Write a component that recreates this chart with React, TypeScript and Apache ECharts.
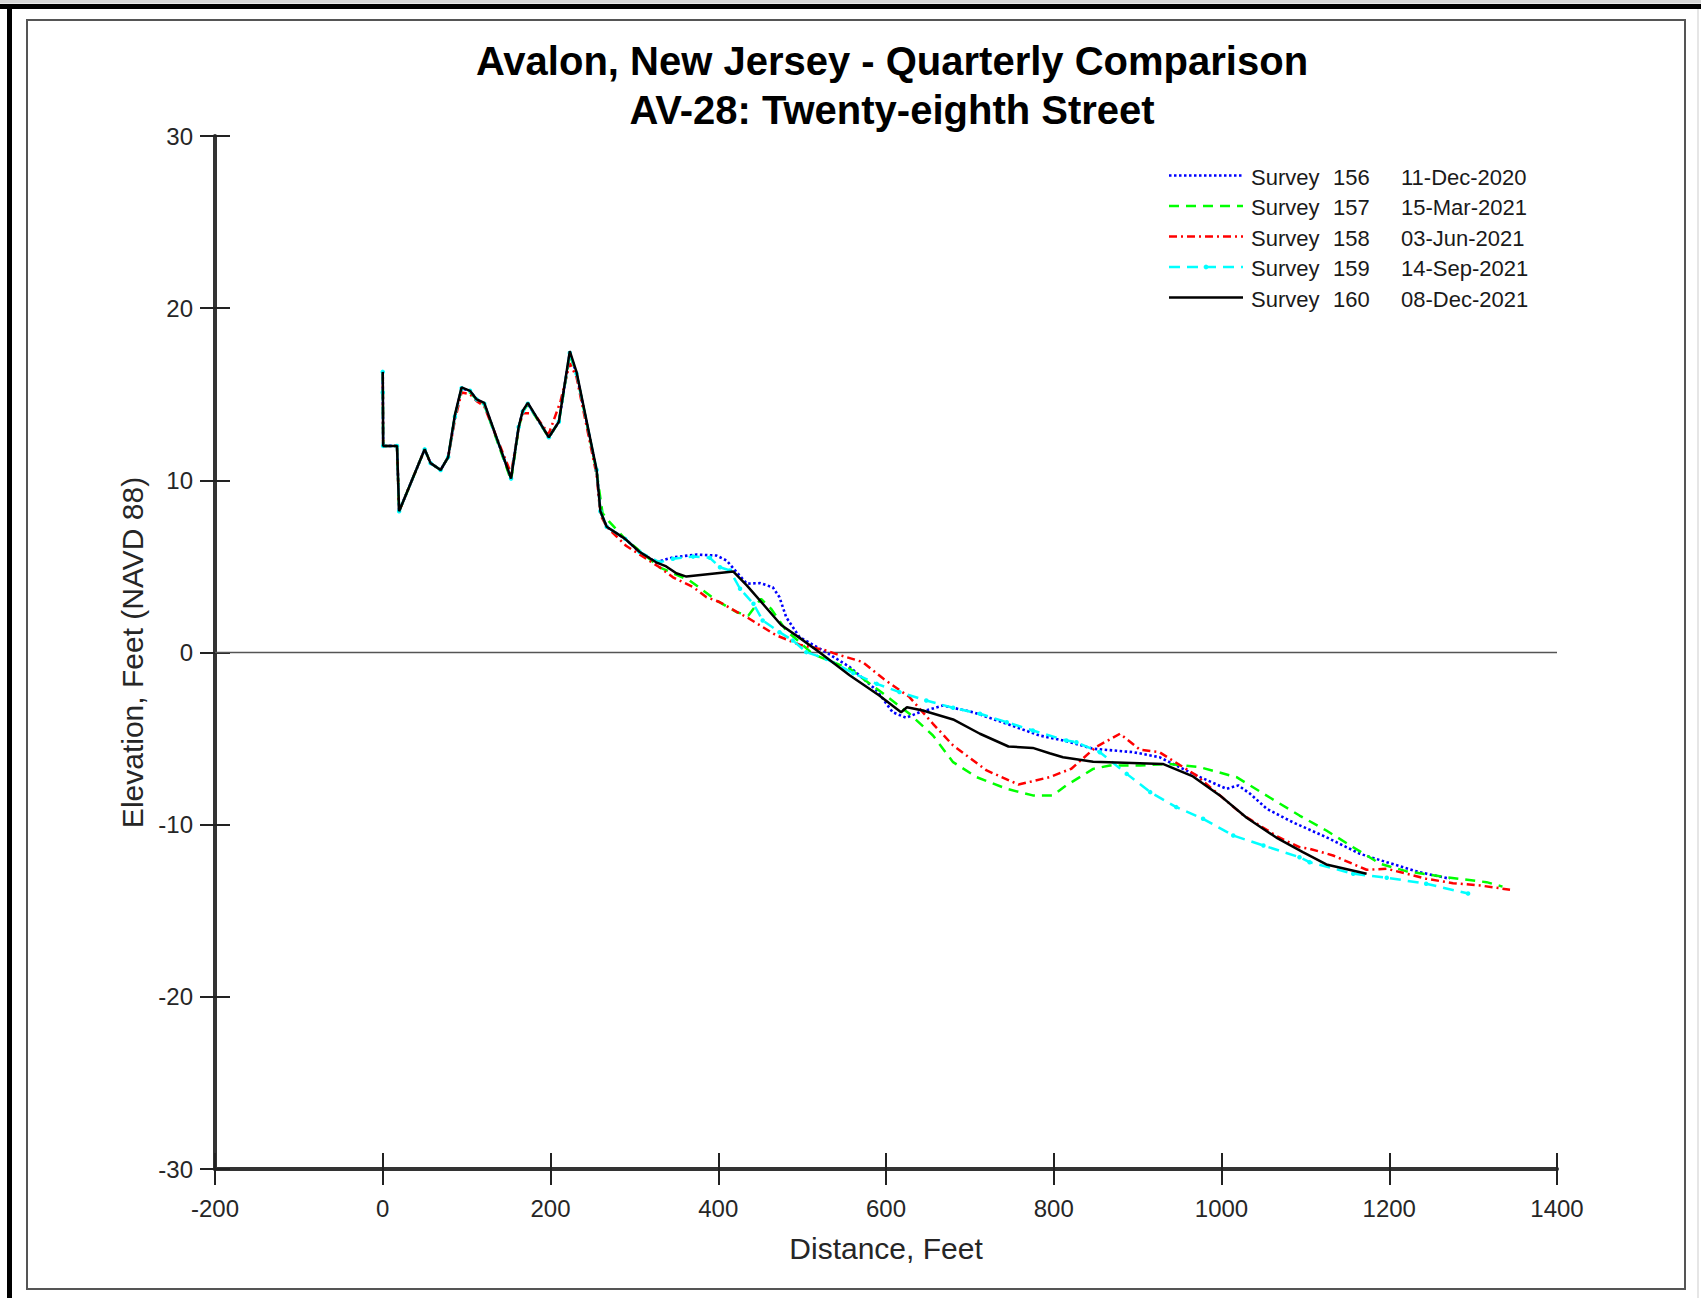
import React, { useEffect, useRef } from "react";
import * as echarts from "echarts";

// ---------------- DATA ----------------
const xTickRange = { min: -200, max: 1400, step: 200 };
const yTickRange = { min: -30, max: 30, step: 10 };

const surveyNumbers = ["156", "157", "158", "159", "160"];
const surveyDates = ["11-Dec-2020", "15-Mar-2021", "03-Jun-2021", "14-Sep-2021", "08-Dec-2021"];

// Survey 156 (11-Dec-2020)
const survey156: [number, number][] = [
  [0, 16.3], [0.5, 12.0], [17, 12.0], [19.5, 8.2], [50, 11.8], [57, 11.0], [69, 10.6], [78, 11.35],
  [86, 13.7], [94, 15.35], [104, 15.2], [112, 14.7], [121, 14.45], [153, 10.1], [162, 13.1], [167, 14.0],
  [173, 14.45], [198, 12.5], [210, 13.4], [223, 17.4], [231, 16.2], [255, 10.6], [259.5, 8.2], [267, 7.3],
  [289, 6.6], [306, 5.85], [326, 5.24], [346, 5.53], [374, 5.69], [398, 5.63], [410, 5.34], [422, 4.66],
  [434, 4.0], [450, 4.03], [465, 3.79], [473, 3.21], [481, 2.05], [497, 0.89], [529, 0.0], [557, -0.85],
  [589, -2.21], [608, -3.47], [624, -3.79], [640, -3.47], [668, -3.08], [704, -3.47], [744, -4.14],
  [783, -4.82], [815, -5.15], [847, -5.59], [895, -5.79], [926, -6.08], [970, -7.14], [1006, -7.92],
  [1020, -7.72], [1034, -8.2], [1054, -9.08], [1085, -9.86], [1125, -10.73], [1165, -11.69],
  [1197, -12.18], [1236, -12.76], [1272, -13.14],
];

// Survey 157 (15-Mar-2021)
const survey157: [number, number][] = [
  [0, 16.3], [0.5, 12.0], [17, 12.0], [19.5, 8.2], [50, 11.8], [57, 11.0], [69, 10.6], [78, 11.35],
  [86, 13.7], [94, 15.3], [104, 15.1], [112, 14.7], [121, 14.4], [153, 10.0], [162, 13.0], [167, 14.0],
  [173, 14.4], [198, 12.5], [210, 13.4], [223, 17.3], [231, 16.2], [255, 10.5], [262, 8.1], [270, 7.6],
  [289, 6.6], [330, 4.95], [366, 4.18], [398, 3.02], [422, 2.34], [436, 2.15], [451, 3.12], [463, 2.54],
  [481, 1.28], [497, 0.6], [513, -0.1], [557, -0.95], [597, -2.4], [628, -3.56], [656, -4.82],
  [680, -6.37], [708, -7.24], [744, -7.92], [775, -8.3], [799, -8.3], [815, -7.72], [847, -6.76],
  [867, -6.56], [903, -6.56], [938, -6.47], [974, -6.66], [1018, -7.24], [1050, -8.2], [1093, -9.47],
  [1125, -10.34], [1157, -11.31], [1189, -12.27], [1220, -12.7], [1268, -13.05], [1316, -13.34],
  [1335, -13.6],
];

// Survey 158 (03-Jun-2021)
const survey158: [number, number][] = [
  [0, 16.2], [0.5, 12.0], [17, 12.0], [19.5, 8.2], [50, 11.8], [57, 11.0], [69, 10.6], [78, 11.35],
  [86, 13.5], [94, 15.1], [104, 15.0], [112, 14.6], [121, 14.3], [153, 10.4], [162, 13.0], [167, 13.9],
  [180, 13.9], [198, 12.7], [212, 14.6], [223, 16.8], [231, 16.0], [255, 10.3], [259.5, 8.0], [267, 7.3],
  [290, 6.2], [330, 4.95], [346, 4.37], [370, 3.8], [386, 3.21], [402, 2.92], [426, 2.25], [434, 2.05],
  [469, 1.0], [497, 0.45], [529, 0.12], [540, -0.08], [572, -0.55], [597, -1.53], [628, -2.59],
  [656, -4.14], [680, -5.4], [720, -6.85], [758, -7.67], [795, -7.24], [821, -6.75], [850, -5.5],
  [879, -4.72], [903, -5.65], [926, -5.79], [970, -7.14], [1026, -9.45], [1067, -10.7], [1093, -11.31],
  [1105, -11.4], [1133, -11.79], [1173, -12.62], [1197, -12.56], [1244, -13.14], [1276, -13.4],
  [1308, -13.53], [1344, -13.78],
];

// Survey 159 (14-Sep-2021)
const survey159: [number, number][] = [
  [0, 16.3], [0, 15.1], [0.5, 12.0], [17, 12.0], [19.5, 8.2], [50, 11.8], [57, 11.0], [69, 10.6],
  [78, 11.35], [86, 13.7], [94, 15.35], [104, 15.2], [112, 14.7], [121, 14.45], [153, 10.1], [162, 13.1],
  [167, 14.0], [173, 14.45], [198, 12.5], [210, 13.4], [223, 17.4], [231, 16.2], [255, 10.6],
  [259.5, 8.2], [267, 7.3], [289, 6.6], [306, 5.85], [330, 5.24], [346, 5.44], [370, 5.57], [390, 5.5],
  [402, 4.95], [414, 4.76], [426, 3.7], [442, 2.83], [453, 1.86], [473, 1.18], [489, 0.7], [505, 0.02],
  [529, -0.37], [561, -1.2], [589, -1.82], [616, -2.3], [648, -2.79], [680, -3.21], [712, -3.56],
  [744, -4.05], [775, -4.53], [815, -5.11], [827, -5.21], [855, -5.79], [887, -7.05], [915, -8.11],
  [946, -8.98], [978, -9.66], [1014, -10.63], [1050, -11.21], [1093, -11.89], [1105, -12.18],
  [1157, -12.85], [1197, -13.08], [1244, -13.43], [1294, -14.0],
];

// Survey 160 (08-Dec-2021)
const survey160: [number, number][] = [
  [0, 16.3], [0.5, 12.0], [17, 12.0], [19.5, 8.2], [50, 11.8], [57, 11.0], [69, 10.6], [78, 11.35],
  [86, 13.8], [94, 15.4], [104, 15.2], [112, 14.7], [121, 14.5], [153, 10.1], [162, 13.1], [167, 14.05],
  [173, 14.5], [198, 12.5], [210, 13.4], [223, 17.5], [231, 16.3], [255, 10.6], [259.5, 8.2], [267, 7.3],
  [289, 6.6], [306, 5.85], [326, 5.24], [338, 5.0], [350, 4.6], [362, 4.41], [418, 4.7], [434, 3.9],
  [475, 1.6], [497, 0.85], [521, 0.0], [557, -1.34], [592, -2.5], [618, -3.47], [625, -3.18],
  [644, -3.37], [680, -3.89], [712, -4.72], [746, -5.46], [775, -5.54], [795, -5.85], [811, -6.08],
  [847, -6.35], [930, -6.47], [966, -7.2], [998, -8.3], [1030, -9.6], [1067, -10.8], [1097, -11.6],
  [1125, -12.31], [1173, -12.85],
];

const zeroLine: [number, number][] = [[-200, 0], [1400, 0]];

const titleLines = ["Avalon, New Jersey - Quarterly Comparison", "AV-28: Twenty-eighth Street"];
const xAxisTitle = "Distance, Feet";
const yAxisTitle = "Elevation, Feet (NAVD 88)";

// ---------------- STYLES ----------------
const FONT = '"Liberation Sans", Arial, Helvetica, sans-serif';
const seriesData = [survey156, survey157, survey158, survey159, survey160];
const seriesStyles = [
  { color: "#0000FF", dash: [2.5, 2.5] as number[] | "solid", width: 2.6, marker: false },
  { color: "#00FF00", dash: [10, 7] as number[] | "solid", width: 2.5, marker: false },
  { color: "#FF0000", dash: [8, 4, 2, 4] as number[] | "solid", width: 2.5, marker: false },
  { color: "#00FFFF", dash: [11, 7] as number[] | "solid", width: 2.5, marker: true },
  { color: "#000000", dash: "solid" as number[] | "solid", width: 2.5, marker: false },
];

const GRID = { left: 215, top: 136, width: 1342, height: 1033 };

export default function App() {
  const ref = useRef<HTMLDivElement>(null);

  useEffect(() => {
    if (!ref.current) return;
    const chart = echarts.init(ref.current, undefined, { renderer: "svg" });

    const series: any[] = [
      {
        name: "zero",
        type: "line",
        xAxisIndex: 0,
        yAxisIndex: 0,
        data: zeroLine,
        symbol: "none",
        silent: true,
        lineStyle: { color: "#555555", width: 1.3 },
        z: 1,
      },
    ];
    seriesData.forEach((d, i) => {
      const s = seriesStyles[i];
      series.push({
        name: `Survey ${surveyNumbers[i]}`,
        type: "line",
        xAxisIndex: 0,
        yAxisIndex: 0,
        data: d,
        showSymbol: s.marker,
        symbol: s.marker ? "circle" : "none",
        symbolSize: 4.5,
        itemStyle: { color: s.color, borderWidth: 0 },
        lineStyle: { color: s.color, width: s.width, type: s.dash },
        silent: true,
        z: 2 + i,
      });
    });

    const legendGraphics: any[] = [];
    surveyNumbers.forEach((num, i) => {
      const s = seriesStyles[i];
      const ly = 175.5 + i * 30.5;
      legendGraphics.push({
        type: "line",
        shape: { x1: 1169, y1: ly, x2: 1243, y2: ly },
        style: {
          stroke: s.color,
          lineWidth: 2.5,
          lineDash: s.dash === "solid" ? null : s.dash,
        },
        silent: true,
        z: 10,
      });
      if (s.marker) {
        legendGraphics.push({
          type: "circle",
          shape: { cx: 1206, cy: ly, r: 2.4 },
          style: { fill: s.color },
          silent: true,
          z: 11,
        });
      }
      const ty = ly + 1.5;
      [
        { x: 1251, t: "Survey" },
        { x: 1333, t: num },
        { x: 1401, t: surveyDates[i] },
      ].forEach((p) => {
        legendGraphics.push({
          type: "text",
          x: p.x,
          y: ty,
          silent: true,
          z: 10,
          style: {
            text: p.t,
            fontSize: 22,
            fontFamily: FONT,
            fill: "#1a1a1a",
            align: "left",
            verticalAlign: "middle",
          },
        });
      });
    });

    const frameGraphics: any[] = [
      { type: "rect", shape: { x: 0, y: 0, width: 1701, height: 3.5 }, style: { fill: "#d6d6d6" }, silent: true, z: 0 },
      { type: "rect", shape: { x: 0, y: 4, width: 1701, height: 5 }, style: { fill: "#000000" }, silent: true, z: 0 },
      { type: "rect", shape: { x: 7, y: 4, width: 5, height: 1294 }, style: { fill: "#000000" }, silent: true, z: 0 },
      { type: "rect", shape: { x: 1697, y: 9, width: 2, height: 1289 }, style: { fill: "#e6e6e6" }, silent: true, z: 0 },
      {
        type: "rect",
        shape: { x: 27, y: 20, width: 1658, height: 1269 },
        style: { fill: "none", stroke: "#555555", lineWidth: 2 },
        silent: true,
        z: 0,
      },
    ];

    const titleGraphics: any[] = titleLines.map((t, i) => ({
      type: "text",
      x: 892,
      y: 61 + i * 49,
      silent: true,
      z: 10,
      style: {
        text: t,
        fontSize: 40,
        fontWeight: "bold",
        fontFamily: FONT,
        fill: "#000000",
        align: "center",
        verticalAlign: "middle",
      },
    }));

    const tickLine = { color: "#222222", width: 2 };
    const plainNumber = (v: number) => String(v);

    chart.setOption({
      animation: false,
      backgroundColor: "#ffffff",
      grid: [
        { ...GRID, containLabel: false },
        { ...GRID, containLabel: false },
      ],
      xAxis: [
        {
          type: "value",
          gridIndex: 0,
          min: xTickRange.min,
          max: xTickRange.max,
          interval: xTickRange.step,
          position: "bottom",
          axisLine: { show: true, onZero: false, lineStyle: { color: "#333333", width: 4 } },
          axisTick: { show: true, inside: false, length: 16, lineStyle: tickLine },
          axisLabel: { show: true, margin: 27, fontSize: 24, color: "#262626", fontFamily: FONT, formatter: plainNumber },
          splitLine: { show: false },
          name: xAxisTitle,
          nameLocation: "middle",
          nameGap: 64,
          nameTextStyle: { fontSize: 30, color: "#262626", fontFamily: FONT },
        },
        {
          type: "value",
          gridIndex: 1,
          min: xTickRange.min,
          max: xTickRange.max,
          interval: xTickRange.step,
          position: "bottom",
          axisLine: { show: false, onZero: false },
          axisTick: { show: true, inside: true, length: 16, lineStyle: tickLine },
          axisLabel: { show: false },
          splitLine: { show: false },
        },
      ],
      yAxis: [
        {
          type: "value",
          gridIndex: 0,
          min: yTickRange.min,
          max: yTickRange.max,
          interval: yTickRange.step,
          position: "left",
          axisLine: { show: true, onZero: false, lineStyle: { color: "#333333", width: 4 } },
          axisTick: { show: true, inside: false, length: 15, lineStyle: tickLine },
          axisLabel: { show: true, margin: 22, fontSize: 24, color: "#262626", fontFamily: FONT, formatter: plainNumber },
          splitLine: { show: false },
          name: yAxisTitle,
          nameLocation: "middle",
          nameGap: 68,
          nameTextStyle: { fontSize: 30, color: "#262626", fontFamily: FONT },
        },
        {
          type: "value",
          gridIndex: 1,
          min: yTickRange.min,
          max: yTickRange.max,
          interval: yTickRange.step,
          position: "left",
          axisLine: { show: false, onZero: false },
          axisTick: { show: true, inside: true, length: 15, lineStyle: tickLine },
          axisLabel: { show: false },
          splitLine: { show: false },
        },
      ],
      series,
      graphic: [...frameGraphics, ...titleGraphics, ...legendGraphics],
    });

    return () => {
      chart.dispose();
    };
  }, []);

  return (
    <div
      ref={ref}
      style={{ position: "fixed", left: 0, top: 0, width: 1701, height: 1298, background: "#fff" }}
    />
  );
}
